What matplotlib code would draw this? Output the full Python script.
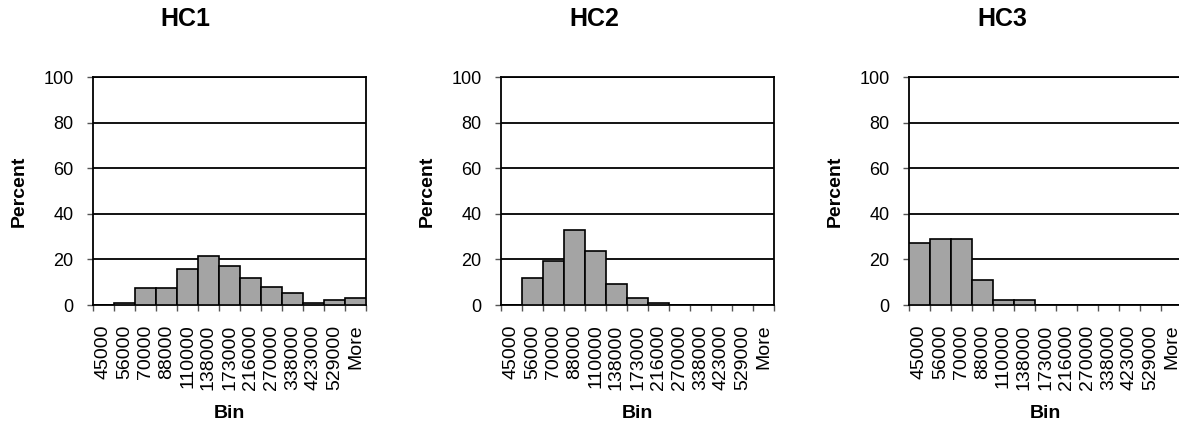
import matplotlib.pyplot as plt
import numpy as np

plt.rcParams['font.family'] = ['Liberation Sans', 'DejaVu Sans']

# bin labels and percent per bin for each cluster
bins = ['45000', '56000', '70000', '88000', '110000', '138000', '173000',
        '216000', '270000', '338000', '423000', '529000', 'More']
hc1 = [0, 0.7, 7.5, 7.5, 16, 21.3, 17, 12, 8, 5.3, 0.7, 2.3, 3]
hc2 = [0, 12, 19.5, 33, 23.5, 9, 3, 0.7, 0, 0, 0, 0, 0]
hc3 = [27, 29, 29, 11, 2.3, 2.2, 0, 0, 0, 0, 0, 0, 0]
titles = ['HC1', 'HC2', 'HC3']

W, H = 1179, 428
fig = plt.figure(figsize=(W / 100, H / 100), dpi=100)

lefts = [93, 501, 909]  # plot area left edges in pixels
for left, vals, title in zip(lefts, [hc1, hc2, hc3], titles):
  ax = fig.add_axes([left / W, (H - 305) / H, 273 / W, 228 / H])
  x = np.arange(len(bins))
  ax.bar(x, vals, width=1.0, color='#a4a4a4', edgecolor='black', linewidth=1.2, zorder=3)
  ax.set_xlim(-0.5, len(bins) - 0.5)
  ax.set_ylim(0, 100)
  ax.set_yticks(range(0, 101, 20))
  ax.yaxis.grid(True, color='black', linewidth=1.3, zorder=0)
  ax.set_axisbelow(True)

  # labels centred on categories, tick marks on the boundaries
  ax.set_xticks(x)
  ax.set_xticklabels(bins, rotation=90, fontsize=14)
  ax.tick_params(axis='x', which='major', length=0, pad=14)
  ax.set_xticks(np.arange(len(bins) + 1) - 0.5, minor=True)
  ax.tick_params(axis='x', which='minor', length=4, width=1, color='#555555')
  ax.tick_params(axis='y', labelsize=13, length=4, width=1, pad=10, color='#555555')

  for s in ax.spines.values():
    s.set_linewidth(1.3)
    s.set_color('black')

  ax.set_ylabel('Percent', fontsize=14, fontweight='bold', va='center')
  ax.yaxis.set_label_coords(-0.27, 0.5)
  ax.set_xlabel('Bin', fontsize=14, fontweight='bold', va='center')
  ax.xaxis.set_label_coords(0.5, -0.474)
  ax.text(0.34, 1.254, title, transform=ax.transAxes, ha='center', va='center',
          fontsize=18, fontweight='bold')

fig.savefig('out.png', dpi=100)
